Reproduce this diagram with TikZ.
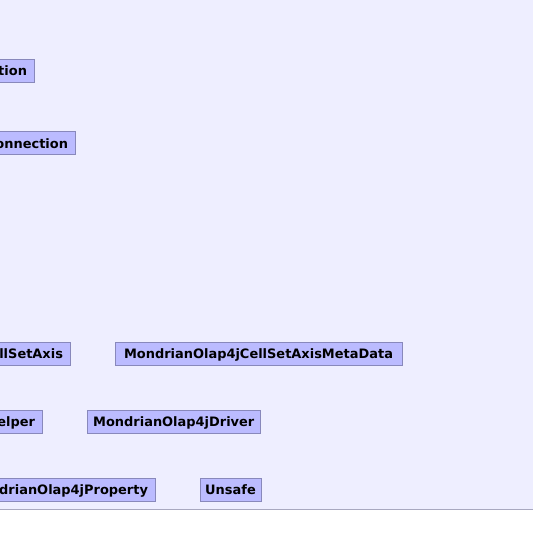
\documentclass[tikz,border=0pt]{standalone}
\usepackage{fontspec}
\setmainfont{DejaVu Sans}
\usepackage{tikz}
\definecolor{canvas}{HTML}{EEEEFF}
\definecolor{boxfill}{HTML}{BBBBFF}
\definecolor{boxline}{HTML}{8888BB}
\definecolor{rulegray}{HTML}{A8A8C0}

\begin{document}
\begin{tikzpicture}[x=1bp,y=-1bp,
  cls/.style={draw=boxline,fill=boxfill,line width=1bp,
              font=\fontsize{13}{15}\selectfont\bfseries,
              text height=9.5bp,text depth=0pt,
              minimum height=23bp,inner xsep=4bp,inner ysep=0pt},
  cut/.style={cls,anchor=east,text width=#1,align=right,inner xsep=7bp}]
\useasboundingbox (0,0) rectangle (533,545);
\fill[canvas] (0,0) rectangle (533,509);
\draw[rulegray,line width=1bp] (0,509) -- (533,509);
\clip (0,0) rectangle (533,545);
% classes cut off at the left edge
\node[cut=60bp] (conn) at (34.5,71) {tion};
\node[cut=110bp] (olapconn) at (75.5,143.5) {onnection};
\node[cut=105bp] (axis) at (70.5,353.5) {llSetAxis};
\node[cut=70bp] (helper) at (42.5,421.5) {elper};
\node[cut=190bp] (property) at (155.5,489.5) {drianOlap4jProperty};
% whole classes
\node[cls,minimum width=287bp] (axismeta) at (258.5,353.5) {MondrianOlap4jCellSetAxisMetaData};
\node[cls,minimum width=173bp] (driver) at (173.75,421.5) {MondrianOlap4jDriver};
\node[cls,minimum width=61bp] (unsafe) at (230.5,489.5) {Unsafe};
\end{tikzpicture}
\end{document}
